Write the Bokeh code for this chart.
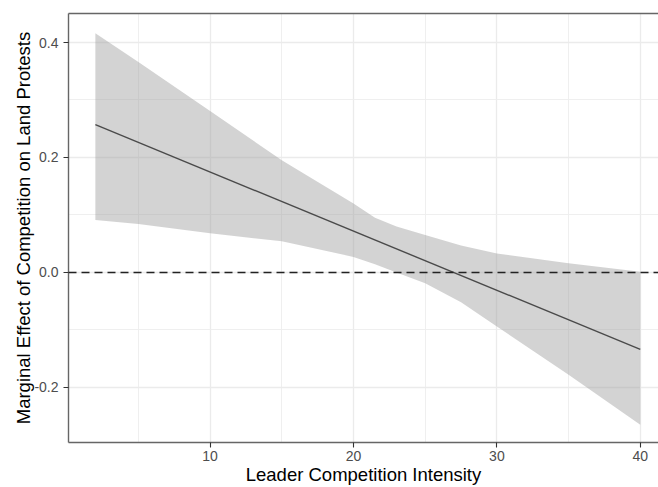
from bokeh.plotting import figure
from bokeh.models import Range1d, FixedTicker, LinearAxis, Span, NumeralTickFormatter
from bokeh.embed import file_html
from bokeh.resources import INLINE

# ---- data ----
band_x = [2, 5, 10, 15, 20, 21.5, 23, 25, 27.5, 30, 35, 40]
band_upper = [0.416, 0.366, 0.281, 0.195, 0.120, 0.095, 0.080, 0.065, 0.047, 0.033, 0.016, 0.001]
band_lower = [0.091, 0.084, 0.068, 0.054, 0.027, 0.014, 0.000, -0.019, -0.052, -0.094, -0.178, -0.265]
line_x = [2, 40]
line_y = [0.257, -0.134]
ref_y = 0.0

x_major = [10, 20, 30, 40]
x_minor = [5, 15, 25, 35, 45]
y_major = [-0.2, 0.0, 0.2, 0.4]
y_minor = [-0.1, 0.1, 0.3]

x_title = "Leader Competition Intensity"
y_title = "Marginal Effect of Competition on Land Protests"

FONT = "Liberation Sans"
BORDER = "#666666"

p = figure(width=658, height=487, output_backend="svg", toolbar_location=None,
           x_range=Range1d(0.126, 41.27), y_range=Range1d(-0.2960, 0.4505),
           min_border_left=68, min_border_right=0, min_border_top=13, min_border_bottom=40)
p.outline_line_color = None
p.background_fill_color = "white"
p.border_fill_color = "white"

tx = FixedTicker(ticks=x_major, minor_ticks=x_minor)
ty = FixedTicker(ticks=y_major, minor_ticks=y_minor)
p.xaxis.ticker = tx
p.yaxis.ticker = ty
p.xgrid.ticker = tx
p.ygrid.ticker = ty

for g in (p.xgrid, p.ygrid):
    g.grid_line_color = "#ebebeb"
    g.grid_line_width = 1.3
    g.minor_grid_line_color = "#ededed"
    g.minor_grid_line_width = 0.9

p.yaxis.formatter = NumeralTickFormatter(format="0.0")

for ax in (p.xaxis, p.yaxis):
    ax.axis_line_color = BORDER
    ax.axis_line_width = 1.4
    ax.major_tick_line_color = "#333333"
    ax.major_tick_line_width = 1.1
    ax.major_tick_out = 5
    ax.major_tick_in = 0
    ax.minor_tick_line_color = None
    ax.major_label_text_font = FONT
    ax.major_label_text_font_size = "14px"
    ax.major_label_text_color = "#4d4d4d"
    ax.axis_label_text_font = FONT
    ax.axis_label_text_font_size = "18.5px"
    ax.axis_label_text_font_style = "normal"
    ax.axis_label_text_color = "black"

p.xaxis.major_label_standoff = 3
p.yaxis.major_label_standoff = 5

p.xaxis.axis_label = x_title
p.xaxis.axis_label_standoff = 0
p.yaxis.axis_label = y_title
p.yaxis.axis_label_standoff = -3

top = LinearAxis(ticker=FixedTicker(ticks=[]), major_label_text_font_size="0px",
                 major_tick_line_color=None, minor_tick_line_color=None,
                 axis_line_color=BORDER, axis_line_width=1.4,
                 major_label_standoff=0, major_tick_out=0)
p.add_layout(top, "above")

# confidence band
p.varea(x=band_x, y1=band_lower, y2=band_upper, fill_color="#999999", fill_alpha=0.43)
# marginal effect line
p.line(x=line_x, y=line_y, line_color="#4a4a4a", line_width=1.4)
# reference line at zero
p.add_layout(Span(location=ref_y, dimension="width", line_color="#222222",
                  line_width=1.5, line_dash="8 5"))

open("out.html", "w").write(file_html(p, INLINE))
